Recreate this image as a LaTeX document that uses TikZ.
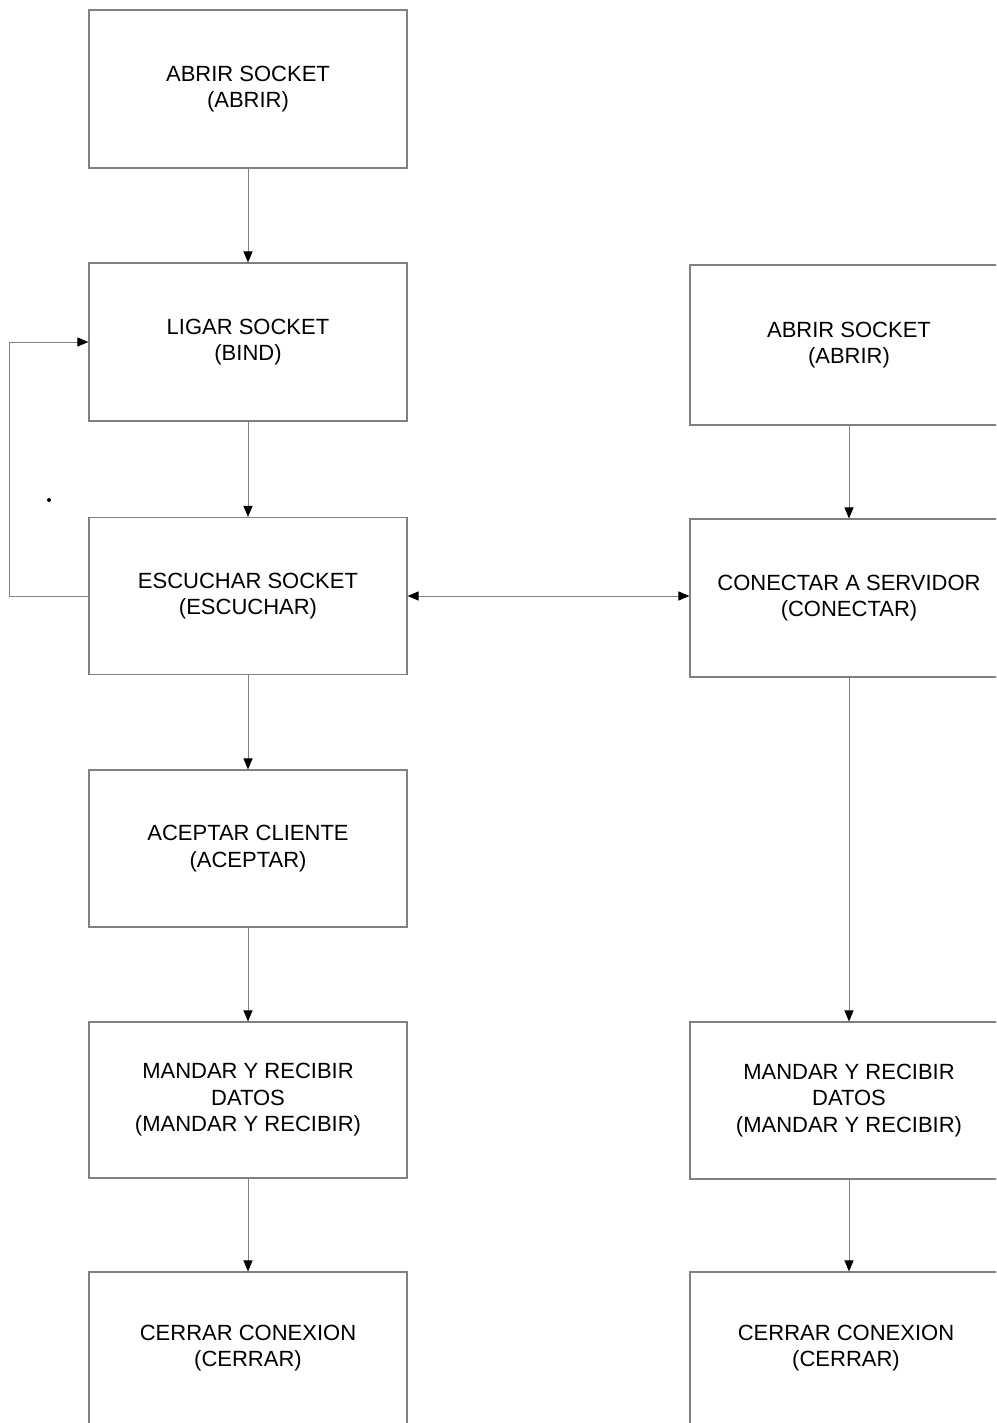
\documentclass[tikz,border=0pt]{standalone}
\usepackage{fontspec}
\setmainfont{Liberation Sans}
\usetikzlibrary{arrows.meta}
\begin{document}
\begin{tikzpicture}[x=1pt,y=-1pt,
  tip/.tip={Triangle[length=11pt,width=9pt,color=black]},
  box/.style={draw=black!50, line width=1.1pt, minimum width=318pt, align=center,
    font=\fontsize{22}{26.5}\selectfont, inner sep=0pt},
  conn/.style={draw=black!50, line width=1pt, -tip},
  dconn/.style={draw=black!50, line width=1pt, tip-tip}]
\useasboundingbox (0,0) rectangle (996,1423);
\clip (0,0) rectangle (996,1423);
% left column
\node[box, minimum height=158pt] (a1) at (248,89) {ABRIR SOCKET\\(ABRIR)};
\node[box, minimum height=158pt] (a2) at (248,342) {LIGAR SOCKET\\(BIND)};
\node[box, minimum height=157pt] (a3) at (248,596) {ESCUCHAR SOCKET\\(ESCUCHAR)};
\node[box, minimum height=157pt] (a4) at (248,848.5) {ACEPTAR CLIENTE\\(ACEPTAR)};
\node[box, minimum height=156pt] (a5) at (248,1100) {MANDAR Y RECIBIR\\DATOS\\(MANDAR Y RECIBIR)};
\node[box, minimum height=300pt] (a6) at (248,1422) {};
\node[font=\fontsize{22}{26.5}\selectfont, align=center] (t6) at (248,1348) {CERRAR CONEXION\\(CERRAR)};
% right column
\node[box, minimum height=160pt] (b1) at (849,345) {ABRIR SOCKET\\(ABRIR)};
\node[box, minimum height=158pt] (b2) at (849,598) {CONECTAR A SERVIDOR\\(CONECTAR)};
\node[box, minimum height=157pt] (b3) at (849,1100.5) {MANDAR Y RECIBIR\\DATOS\\(MANDAR Y RECIBIR)};
\node[box, minimum height=300pt] (b4) at (849,1422) {};
\node[font=\fontsize{22}{26.5}\selectfont, align=center] (u4) at (846,1348) {CERRAR CONEXION\\(CERRAR)};
% connectors
\draw[conn] (a1) -- (a2);
\draw[conn] (a2) -- (a3);
\draw[conn] (a3) -- (a4);
\draw[conn] (a4) -- (a5);
\draw[conn] (a5) -- (a6);
\coordinate (lp) at (9,596);
\draw[conn] (a3.west) -- (lp) |- (a2.west);
\draw[dconn] (a3.east) -- (a3.east -| b2.west);
\draw[conn] (b1) -- (b2);
\draw[conn] (b2) -- (b3);
\draw[conn] (b3) -- (b4);
\fill (49,500) circle (2pt);
\end{tikzpicture}
\end{document}
